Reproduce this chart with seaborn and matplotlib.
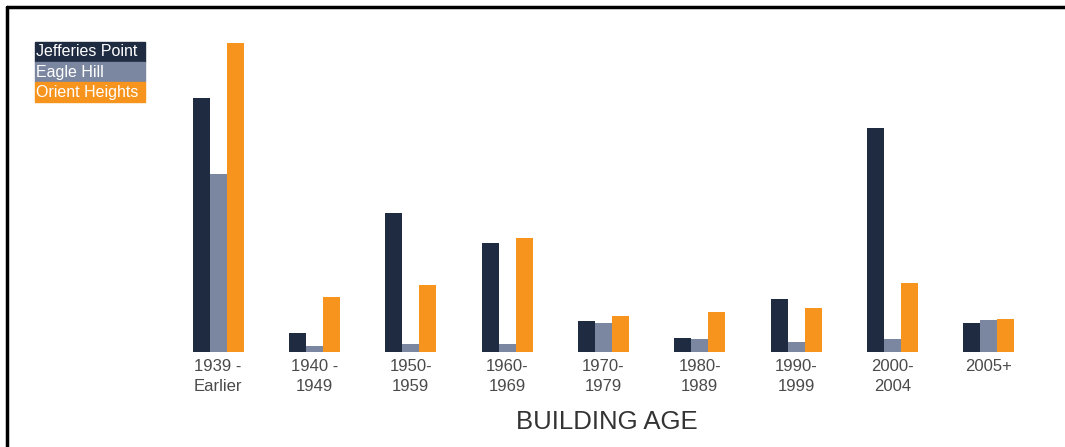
import pandas as pd
import matplotlib.pyplot as plt
import matplotlib.patches as mpatches
import seaborn as sns

sns.set_style('white')
plt.rcParams['font.family'] = ['Liberation Sans Narrow', 'Liberation Sans', 'DejaVu Sans']

# building age categories (tick labels)
ages = ['1939 -\nEarlier', '1940 -\n1949', '1950-\n1959', '1960-\n1969', '1970-\n1979',
        '1980-\n1989', '1990-\n1999', '2000-\n2004', '2005+']

# bar heights (relative units)
jefferies = [254, 19, 139, 109, 31, 14, 53, 224, 29]
eagle = [178, 6, 8, 8, 29, 13, 10, 13, 32]
orient = [309, 55, 67, 114, 36, 40, 44, 69, 33]

neighborhoods = ['Jefferies Point', 'Eagle Hill', 'Orient Heights']
colors = ['#1f2b41', '#7b86a0', '#f7941d']

df = pd.DataFrame({
    'age': ages * 3,
    'hood': sum([[n] * len(ages) for n in neighborhoods], []),
    'value': jefferies + eagle + orient,
})

fig = plt.figure(figsize=(10.65, 4.47), dpi=100)
ax = fig.add_axes([0.1596, 1 - 352 / 447, 0.8141, 320 / 447])

sns.barplot(data=df, x='age', y='value', hue='hood', palette=colors,
            width=0.53, saturation=1, linewidth=0, ax=ax, legend=False)

ax.set_xlim(-0.5, 8.5)
ax.set_ylim(0, 320)
ax.set_ylabel('')
ax.set_xlabel('')
ax.set_yticks([])
for s in ax.spines.values():
    s.set_visible(False)
ax.tick_params(axis='x', length=0, pad=5, labelsize=12, labelcolor='#4a4a4a')
for t in ax.get_xticklabels():
    t.set_linespacing(1.45)

fig.text(0.570, 0.055, 'BUILDING AGE', ha='center', va='center',
         fontsize=18.5, color='#333333')

# legend boxes top-left
for i, (name, c) in enumerate(zip(neighborhoods, colors)):
    y0 = 1 - (62 + 20 * i) / 447
    fig.patches.append(mpatches.Rectangle((35 / 1065, y0), 110 / 1065, 20 / 447,
                                          transform=fig.transFigure, color=c, zorder=1))
    fig.text(36 / 1065, y0 + 10 / 447, name, ha='left', va='center',
             fontsize=11.5, color='white', zorder=2)

# frame lines (top and left)
fig.add_artist(plt.Line2D([7 / 1065, 1], [1 - 7 / 447, 1 - 7 / 447],
                          transform=fig.transFigure, color='black', lw=2.5))
fig.add_artist(plt.Line2D([7 / 1065, 7 / 1065], [0, 1 - 7 / 447],
                          transform=fig.transFigure, color='black', lw=2.5))

fig.savefig('out.png', dpi=100)
